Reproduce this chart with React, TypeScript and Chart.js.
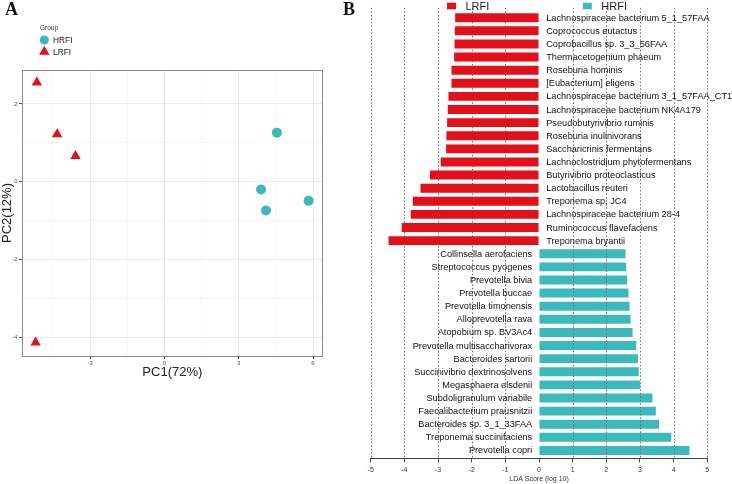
import React, { useEffect, useRef } from 'react';
import { Chart, registerables } from 'chart.js';
import { drawPoint } from 'chart.js/helpers';

Chart.register(...registerables);

const FONT = "'Liberation Sans', Arial, sans-serif";
const RED = '#E30F19';
const CYAN = '#3CB9BD';

// ---------- Panel A: PCA ----------
const pcaGroups = ['HRFI', 'LRFI'];
const hrfiPC1 = [4.54, 3.9, 4.1, 5.82];
const hrfiPC2 = [1.26, -0.2, -0.74, -0.49];
const lrfiPC1 = [-5.15, -4.33, -3.59, -5.2];
const lrfiPC2 = [2.55, 1.22, 0.66, -4.13];
const pc1Ticks = [-4.5, -3, -1.5, 0, 1.5, 3, 4.5, 6];
const pc2Ticks = [-4, -3, -2, -1, 0, 1, 2];
const pc1Range = [-5.75, 6.39];
const pc2Range = [-4.48, 2.87];

// ---------- Panel B: LEfSe LDA ----------
const lrfiTaxa = [
  'Lachnospiraceae bacterium 5_1_57FAA',
  'Coprococcus eutactus',
  'Coprobacillus sp. 3_3_56FAA',
  'Thermacetogenium phaeum',
  'Roseburia hominis',
  '[Eubacterium] eligens',
  'Lachnospiraceae bacterium 3_1_57FAA_CT1',
  'Lachnospiraceae bacterium NK4A179',
  'Pseudobutyrivibrio ruminis',
  'Roseburia inulinivorans',
  'Saccharicrinis fermentans',
  'Lachnoclostridium phytofermentans',
  'Butyrivibrio proteoclasticus',
  'Lactobacillus reuteri',
  'Treponema sp. JC4',
  'Lachnospiraceae bacterium 28-4',
  'Ruminococcus flavefaciens',
  'Treponema bryantii',
];
const lrfiLDA = [
  -2.49, -2.5, -2.51, -2.52, -2.6, -2.6, -2.69, -2.71, -2.73, -2.75, -2.76,
  -2.92, -3.24, -3.52, -3.75, -3.81, -4.08, -4.47,
];
const hrfiTaxa = [
  'Collinsella aerofaciens',
  'Streptococcus pyogenes',
  'Prevotella bivia',
  'Prevotella buccae',
  'Prevotella timonensis',
  'Alloprevotella rava',
  'Atopobium sp. BV3Ac4',
  'Prevotella multisaccharivorax',
  'Bacteroides sartorii',
  'Succinivibrio dextrinosolvens',
  'Megasphaera elsdenii',
  'Subdoligranulum variabile',
  'Faecalibacterium prausnitzii',
  'Bacteroides sp. 3_1_33FAA',
  'Treponema succinifaciens',
  'Prevotella copri',
];
const hrfiLDA = [
  2.57, 2.59, 2.62, 2.66, 2.69, 2.72, 2.78, 2.89, 2.94, 2.96, 3.0, 3.37, 3.47,
  3.57, 3.93, 4.47,
];
const ldaTicks = [-5, -4, -3, -2, -1, 0, 1, 2, 3, 4, 5];
const ldaGroups = ['LRFI', 'HRFI'];

const pcaPlugin = {
  id: 'pcaDecor',
  beforeDatasetsDraw(chart: any) {
    const { ctx, chartArea } = chart;
    ctx.save();
    ctx.strokeStyle = '#8A8A8A';
    ctx.lineWidth = 1;
    ctx.strokeRect(
      Math.round(chartArea.left) + 0.5,
      Math.round(chartArea.top) + 0.5,
      Math.round(chartArea.right - chartArea.left) - 1,
      Math.round(chartArea.bottom - chartArea.top)
    );
    ctx.restore();
  },
  afterDraw(chart: any) {
    const { ctx, chartArea } = chart;
    const { left, top } = chartArea;
    ctx.save();
    ctx.textBaseline = 'middle';
    ctx.textAlign = 'left';
    ctx.fillStyle = '#333';
    ctx.font = `6.5px ${FONT}`;
    ctx.fillText('Group', left + 18, top - 42);
    chart.data.datasets.forEach((ds: any, i: number) => {
      const cy = top - 30 + i * 11.7;
      ctx.fillStyle = ds.backgroundColor;
      drawPoint(
        ctx,
        { pointStyle: ds.pointStyle, radius: ds.pointStyle === 'circle' ? 4.6 : 6, rotation: 0, borderWidth: 0 } as any,
        left + 22.3,
        cy
      );
      ctx.fillStyle = '#222';
      ctx.font = `8.4px ${FONT}`;
      ctx.fillText(ds.label, left + 31, cy + 0.5);
    });
    ctx.restore();
  },
};

const ldaPlugin = {
  id: 'ldaDecor',
  afterDatasetDraw(chart: any, args: any) {
    if (args.index !== 1) return;
    const { ctx, chartArea, scales } = chart;
    ctx.save();
    ctx.strokeStyle = '#6E6E6E';
    ctx.lineWidth = 1;
    ctx.setLineDash([1.5, 2]);
    ldaTicks.forEach((v) => {
      if (v === 0) return;
      const x = Math.round(scales.x.getPixelForValue(v)) + 0.5;
      ctx.beginPath();
      ctx.moveTo(x, chartArea.top - 2);
      ctx.lineTo(x, chartArea.bottom);
      ctx.stroke();
    });
    ctx.restore();
  },
  afterDatasetsDraw(chart: any) {
    const { ctx, scales } = chart;
    const x0 = scales.x.getPixelForValue(0);
    ctx.save();
    ctx.font = `9.2px ${FONT}`;
    ctx.fillStyle = '#111';
    ctx.textBaseline = 'middle';
    chart.data.labels.forEach((name: string, i: number) => {
      const y = scales.y.getPixelForValue(i);
      const neg = i < lrfiLDA.length;
      ctx.textAlign = neg ? 'left' : 'right';
      ctx.fillText(name, neg ? x0 + 7.2 : x0 - 6.8, y + 0.5);
    });
    ctx.restore();
  },
  afterDraw(chart: any) {
    const { ctx, chartArea } = chart;
    ctx.save();
    ctx.font = `11px ${FONT}`;
    ctx.textBaseline = 'middle';
    ctx.textAlign = 'left';
    const boxW = 9;
    const gapText = 9.5;
    const gapItem = 93.5;
    const widths = chart.data.datasets.map(
      (ds: any) => boxW + gapText + ctx.measureText(ds.label).width
    );
    const total = widths[0] + gapItem + widths[1];
    let x = (chartArea.left + chartArea.right) / 2 - total / 2 - 2;
    chart.data.datasets.forEach((ds: any, i: number) => {
      ctx.fillStyle = ds.backgroundColor;
      ctx.fillRect(x, 2.7, boxW, 6.6);
      ctx.fillStyle = '#1A1A1A';
      ctx.fillText(ds.label, x + boxW + gapText, 6.6);
      x += widths[i] + gapItem;
    });
    ctx.restore();
  },
};

export default function App() {
  const refA = useRef<HTMLCanvasElement>(null);
  const refB = useRef<HTMLCanvasElement>(null);

  useEffect(() => {
    const tickFontA = { size: 6, family: FONT };
    const chartA = new Chart(refA.current as HTMLCanvasElement, {
      type: 'scatter',
      data: {
        datasets: [
          {
            label: pcaGroups[0],
            data: hrfiPC1.map((x, i) => ({ x, y: hrfiPC2[i] })),
            pointStyle: 'circle',
            pointRadius: 5,
            backgroundColor: CYAN,
            borderColor: CYAN,
            borderWidth: 0,
          },
          {
            label: pcaGroups[1],
            data: lrfiPC1.map((x, i) => ({ x, y: lrfiPC2[i] })),
            pointStyle: 'triangle',
            pointRadius: 6,
            backgroundColor: RED,
            borderColor: RED,
            borderWidth: 0,
          },
        ],
      },
      options: {
        responsive: false,
        animation: false,
        layout: { padding: { left: 0, top: 70, right: 17.3, bottom: 19.5 } },
        plugins: { legend: { display: false }, tooltip: { enabled: false } },
        scales: {
          x: {
            type: 'linear',
            min: pc1Range[0],
            max: pc1Range[1],
            afterBuildTicks: (s: any) => {
              s.ticks = pc1Ticks.map((value) => ({ value }));
            },
            afterFit: (s: any) => {
              s.height = 24.5;
            },
            ticks: {
              callback: (v: any) => (Number(v) % 3 === 0 ? String(v) : ''),
              font: tickFontA,
              color: '#4D4D4D',
              padding: 1,
              maxRotation: 0,
              autoSkip: false,
            },
            grid: {
              color: (c: any) => (c.tick && c.tick.value % 3 === 0 ? '#EBEBEB' : '#F5F5F5'),
              tickColor: (c: any) => (c.tick && c.tick.value % 3 === 0 ? '#555' : 'rgba(0,0,0,0)'),
              tickLength: 3,
              lineWidth: 1,
            },
            border: { display: false },
            title: {
              display: true,
              text: 'PC1(72%)',
              font: { size: 13, family: FONT },
              color: '#222',
              padding: 0,
            },
          },
          y: {
            type: 'linear',
            min: pc2Range[0],
            max: pc2Range[1],
            afterBuildTicks: (s: any) => {
              s.ticks = pc2Ticks.map((value) => ({ value }));
            },
            afterFit: (s: any) => {
              s.width = 22;
            },
            ticks: {
              callback: (v: any) => (Number(v) % 2 === 0 ? String(v) : ''),
              font: tickFontA,
              color: '#4D4D4D',
              padding: 1.5,
              autoSkip: false,
            },
            grid: {
              color: (c: any) => (c.tick && c.tick.value % 2 === 0 ? '#EBEBEB' : '#F5F5F5'),
              tickColor: (c: any) => (c.tick && c.tick.value % 2 === 0 ? '#555' : 'rgba(0,0,0,0)'),
              tickLength: 3,
              lineWidth: 1,
            },
            border: { display: false },
            title: {
              display: true,
              text: 'PC2(12%)',
              font: { size: 13, family: FONT },
              color: '#222',
              padding: 0,
            },
          },
        },
      } as any,
      plugins: [pcaPlugin],
    });

    const nTotal = lrfiLDA.length + hrfiLDA.length;
    const chartB = new Chart(refB.current as HTMLCanvasElement, {
      type: 'bar',
      data: {
        labels: [...lrfiTaxa, ...hrfiTaxa],
        datasets: [
          {
            label: ldaGroups[0],
            data: lrfiLDA.map((v, i) => ({ x: v, y: i })),
            backgroundColor: RED,
            order: 0,
          },
          {
            label: ldaGroups[1],
            data: hrfiLDA.map((v, i) => ({ x: v, y: lrfiLDA.length + i })),
            backgroundColor: CYAN,
            order: 1,
          },
        ],
      },
      options: {
        indexAxis: 'y',
        responsive: false,
        animation: false,
        datasets: { bar: { grouped: false, barPercentage: 0.68, categoryPercentage: 1 } },
        layout: { padding: { left: 30.7, right: 24.7, top: 9.85, bottom: 0 } },
        plugins: { legend: { display: false }, tooltip: { enabled: false } },
        scales: {
          x: {
            type: 'linear',
            min: ldaTicks[0],
            max: ldaTicks[ldaTicks.length - 1],
            afterBuildTicks: (s: any) => {
              s.ticks = ldaTicks.map((value) => ({ value }));
            },
            afterFit: (s: any) => {
              s.height = 25.7;
            },
            ticks: {
              font: { size: 7, family: FONT },
              color: '#333',
              padding: 3.5,
              maxRotation: 0,
              autoSkip: false,
            },
            grid: {
              drawOnChartArea: false,
              drawTicks: true,
              tickLength: 4,
              tickColor: '#444',
            },
            border: { display: true, color: '#444', width: 1 },
            title: {
              display: true,
              text: 'LDA Score (log 10)',
              font: { size: 7, family: FONT },
              color: '#333',
              padding: { top: 0, bottom: 1 },
            },
          },
          y: {
            type: 'linear',
            display: false,
            reverse: true,
            offset: false,
            grid: { offset: false },
            min: -0.6,
            max: nTotal - 0.4,
          },
        },
      } as any,
      plugins: [ldaPlugin],
    });

    return () => {
      chartA.destroy();
      chartB.destroy();
    };
  }, []);

  const panelLabel: React.CSSProperties = {
    position: 'absolute',
    top: 0,
    font: "bold 18px 'Liberation Serif', 'Times New Roman', serif",
    lineHeight: '18px',
    color: '#111',
  };

  return (
    <div
      style={{
        position: 'absolute',
        left: 0,
        top: 0,
        width: 732,
        height: 484,
        background: '#fff',
        overflow: 'hidden',
      }}
    >
      <canvas
        ref={refA}
        width={340}
        height={400}
        style={{ position: 'absolute', left: 0, top: 0, width: 340, height: 400 }}
      />
      <canvas
        ref={refB}
        width={392}
        height={484}
        style={{ position: 'absolute', left: 340, top: 0, width: 392, height: 484 }}
      />
      <div style={{ ...panelLabel, left: 5 }}>A</div>
      <div style={{ ...panelLabel, left: 343 }}>B</div>
    </div>
  );
}
